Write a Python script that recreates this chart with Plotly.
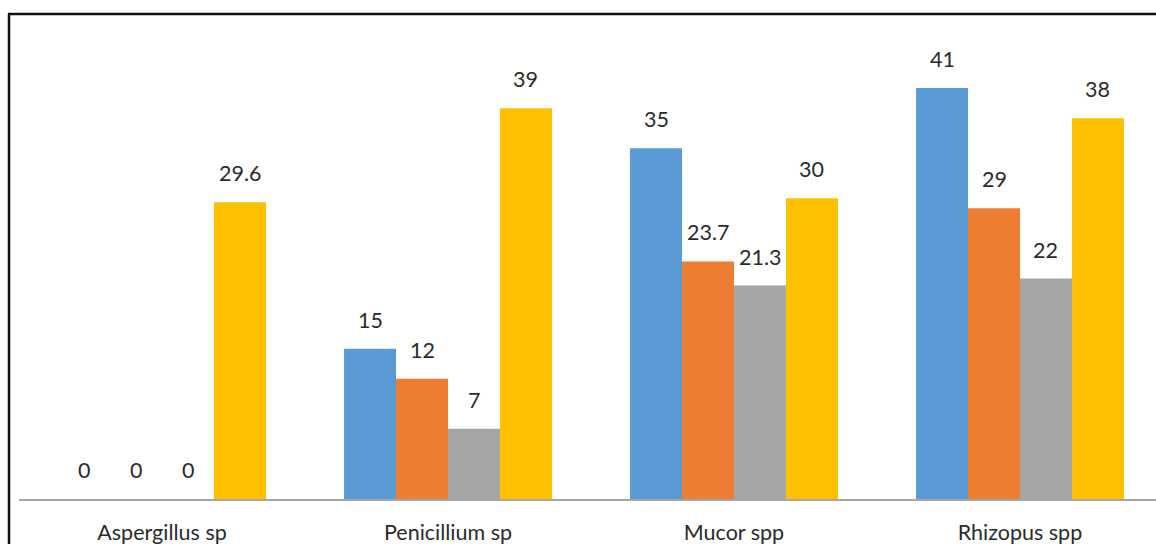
import plotly.graph_objects as go

# Fungal isolates per genus, four measurement series
categories = ["Aspergillus sp", "Penicillium sp", "Mucor spp", "Rhizopus spp"]
series_names = ["Series 1", "Series 2", "Series 3", "Series 4"]
series_1 = [0, 15, 35, 41]
series_2 = [0, 12, 23.7, 29]
series_3 = [0, 7, 21.3, 22]
series_4 = [29.6, 39, 30, 38]
colors = ["#5B9BD5", "#ED7D31", "#A5A5A5", "#FFC000"]

all_series = [series_1, series_2, series_3, series_4]

W, H = 1156, 544
M_L, M_R, M_T, M_B = 19, 0, 48, 45
CAT_PX = 286          # pixel width of one category slot
BAR_GAP = 0.273
plot_w = W - M_L - M_R
plot_h = H - M_T - M_B
x_max = -0.5 + plot_w / CAT_PX
bar_px = CAT_PX * (1 - BAR_GAP) / len(all_series)

FONT = "Lato, Carlito, Calibri, sans-serif"
TEXT_COLOR = "#2b2b2b"

fig = go.Figure()
for name, vals, col in zip(series_names, all_series, colors):
    fig.add_trace(go.Bar(
        name=name, x=categories, y=vals,
        marker=dict(color=col, line=dict(width=0)),
        hoverinfo="x+y",
    ))

# value labels above each bar
annotations = []
for i, vals in enumerate(all_series):
    shift = (i - (len(all_series) - 1) / 2) * bar_px
    for cat, v in zip(categories, vals):
        annotations.append(dict(
            x=cat, y=v, xref="x", yref="y",
            text=f"{v:g}", showarrow=False,
            xshift=shift, yshift=14, yanchor="bottom",
            font=dict(family=FONT, size=21.5, color=TEXT_COLOR),
        ))

# frame lines on the left and top of the chart
left_px, top_px = 9, 14
px_to_paper_x = lambda px: (px - M_L) / plot_w
px_to_paper_y = lambda py: (H - M_B - py) / plot_h
shapes = [
    dict(type="line", xref="paper", yref="paper",
         x0=px_to_paper_x(left_px), x1=px_to_paper_x(left_px),
         y0=px_to_paper_y(top_px), y1=px_to_paper_y(H + 5),
         line=dict(color="#111111", width=2.5)),
    dict(type="line", xref="paper", yref="paper",
         x0=px_to_paper_x(left_px - 1), x1=px_to_paper_x(W + 5),
         y0=px_to_paper_y(top_px), y1=px_to_paper_y(top_px),
         line=dict(color="#111111", width=2.5)),
]

fig.update_layout(
    width=W, height=H,
    margin=dict(l=M_L, r=M_R, t=M_T, b=M_B, pad=0),
    paper_bgcolor="white", plot_bgcolor="white",
    barmode="group", bargap=BAR_GAP, bargroupgap=0,
    showlegend=False,
    annotations=annotations,
    shapes=shapes,
    font=dict(family=FONT, color=TEXT_COLOR),
    xaxis=dict(
        range=[-0.5, x_max], showgrid=False, zeroline=False,
        showline=True, linecolor="#A6A6A6", linewidth=2,
        ticks="", ticklabelstandoff=13,
        tickfont=dict(family=FONT, size=21.5, color=TEXT_COLOR),
        fixedrange=True,
    ),
    yaxis=dict(
        range=[0, 45], visible=False, showgrid=False, zeroline=False,
        fixedrange=True,
    ),
)

fig.write_html("out.html")
